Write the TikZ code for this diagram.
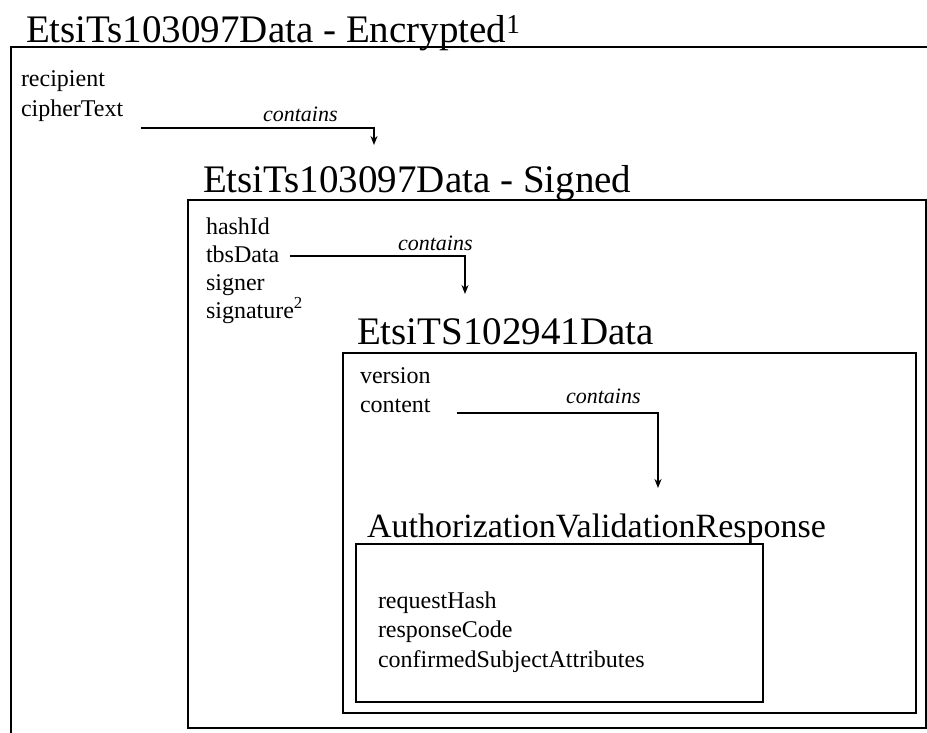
\documentclass[tikz,border=0pt]{standalone}
\usepackage{fontspec}
\setmainfont{Liberation Serif}
\usetikzlibrary{positioning,arrows.meta}

\begin{document}
\begin{tikzpicture}[x=1pt,y=-1pt,->,>={Stealth[length=9pt,width=7pt]},line width=2pt,
title/.style={anchor=base west,inner sep=0pt,font=\fontsize{39}{47}\selectfont},
subtitle/.style={title,font=\fontsize{34}{41}\selectfont},
field/.style={anchor=base west,inner sep=0pt,font=\fontsize{24}{29}\selectfont},
rel/.style={anchor=base west,inner sep=0pt,font=\fontsize{22}{26}\selectfont\itshape},
box/.style={draw,-,line width=2.4pt}]
\useasboundingbox (0,0) rectangle (927,733);
\clip (0,0) rectangle (927,733);

% nested boxes
\draw[box] (11,47) rectangle (950,760);
\draw[box] (188,200) rectangle (926,728);
\draw[box] (343,353) rectangle (916,713);
\draw[box] (356,544) rectangle (763,702);

% titles
\node[title] (enc) at (25,43) {EtsiTs103097Data - Encrypted\textsuperscript{1}};
\node[title] (sgn) at (202,193) {EtsiTs103097Data - Signed};
\node[title] (dat) at (356,344) {EtsiTS102941Data};
\node[subtitle] (avr) at (366,537) {AuthorizationValidationResponse};

% fields
\node[field] (rcp) at (20,87) {recipient};
\node[field] (ctx) at ([yshift=-30pt]rcp.base west) {cipherText};

\node[field] (hid) at (205,234) {hashId};
\node[field] (tbs) at ([yshift=-28pt]hid.base west) {tbsData};
\node[field] (sgr) at ([yshift=-28pt]tbs.base west) {signer};
\node[field] (sig) at ([yshift=-28pt]sgr.base west) {signature\textsuperscript{2}};

\node[field] (ver) at (359,383) {version};
\node[field] (cnt) at ([yshift=-29pt]ver.base west) {content};

\node[field] (rqh) at (377,608) {requestHash};
\node[field] (rsc) at ([yshift=-29pt]rqh.base west) {responseCode};
\node[field] (csa) at ([yshift=-30pt]rsc.base west) {confirmedSubjectAttributes};

% contains arrows
\coordinate (sgn-in) at (374,145);
\coordinate (dat-in) at (465,294);
\coordinate (avr-in) at (658,488);
\draw ([xshift=17pt,yshift=-11pt]ctx.base east) -| (sgn-in);
\draw ([xshift=10pt,yshift=6pt]tbs.base east) -| (dat-in);
\draw ([xshift=25pt,yshift=-1pt]cnt.base east) -| (avr-in);

\node[rel] (c1) at (262,122) {contains};
\node[rel] (c2) at (397,250) {contains};
\node[rel] (c3) at (565,403) {contains};
\end{tikzpicture}
\end{document}
